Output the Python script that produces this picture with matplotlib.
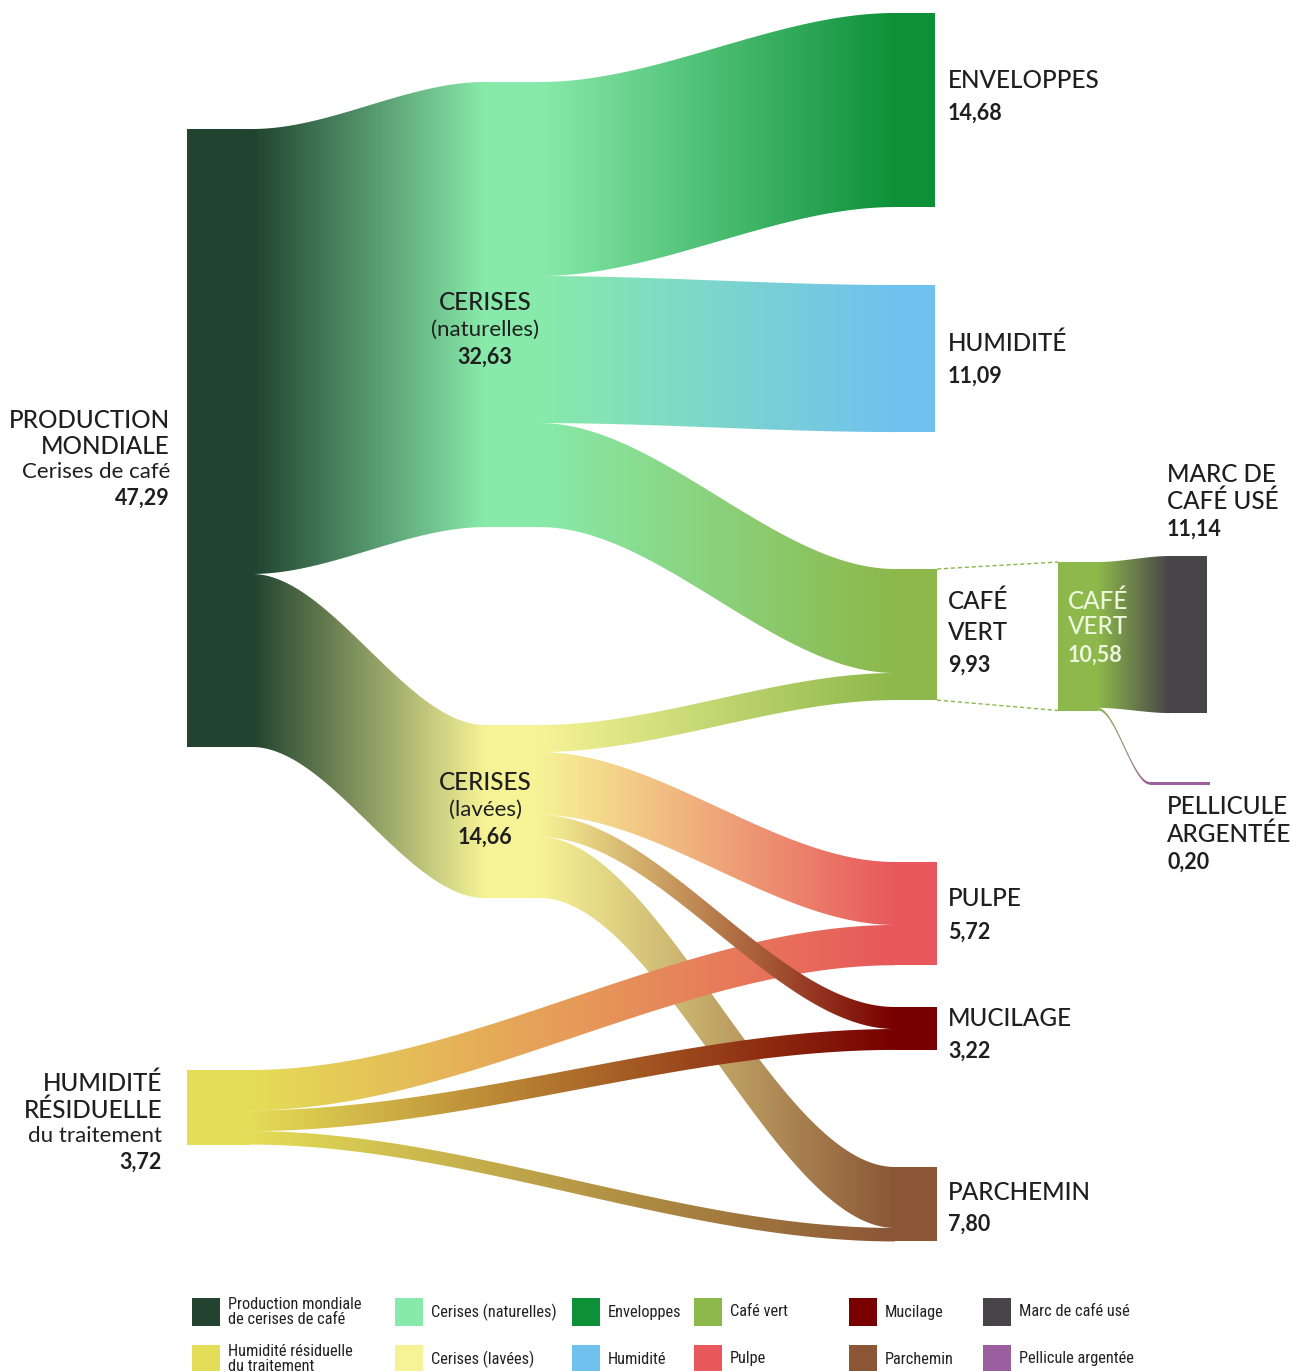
import matplotlib
matplotlib.use("Agg")
import matplotlib.pyplot as plt
import numpy as np
from matplotlib.path import Path
from matplotlib.patches import PathPatch, Rectangle
from matplotlib.colors import to_rgb
from matplotlib import font_manager

# ---------------- DATA ----------------
node_ids = ["prod", "hr", "nat", "lav", "env", "hum", "cv", "pulpe", "muc", "parch", "cv2", "marc", "pell"]
node_colors = ["#21432f", "#e4dd57", "#88eaaa", "#f6f396", "#0e9039", "#71c1ef", "#8db84b",
               "#e8585c", "#780000", "#8b5636", "#8db84b", "#48444a", "#9b5fa0"]

flow_sources = ["prod", "prod", "nat", "nat", "nat", "lav", "lav", "lav", "lav", "hr", "hr", "hr", "cv2", "cv2"]
flow_targets = ["nat", "lav", "env", "hum", "cv", "cv", "pulpe", "muc", "parch", "pulpe", "muc", "parch", "marc", "pell"]
# flow widths (units)
flow_values = [33.71, 13.11, 14.70, 11.14, 7.88, 2.05, 4.77, 1.67, 4.62, 3.05, 1.58, 1.02, 11.05, 0.20]
# drawn height of the "marc" bar (it is taller than its inflow)
marc_bar_value = 11.90

# label texts
label_values = {"prod": "47,29", "hr": "3,72", "nat": "32,63", "lav": "14,66", "env": "14,68",
                "hum": "11,09", "cv": "9,93", "pulpe": "5,72", "muc": "3,22", "parch": "7,80",
                "cv2": "10,58", "marc": "11,14", "pell": "0,20"}

legend_labels_row1 = ["Production mondiale\nde cerises de café", "Cerises (naturelles)", "Enveloppes",
                      "Café vert", "Mucilage", "Marc de café usé"]
legend_colors_row1 = ["#21432f", "#88eaaa", "#0e9039", "#8db84b", "#780000", "#48444a"]
legend_labels_row2 = ["Humidité résiduelle\ndu traitement", "Cerises (lavées)", "Humidité",
                      "Pulpe", "Parchemin", "Pellicule argentée"]
legend_colors_row2 = ["#e4dd57", "#f6f396", "#71c1ef", "#e8585c", "#8b5636", "#9b5fa0"]

# ---------------- LAYOUT ----------------
S = 13.2  # pixels per unit
node_x = {"prod": (187, 252), "hr": (187, 250), "nat": (485, 540), "lav": (485, 540),
          "env": (895, 935), "hum": (895, 935), "cv": (895, 937), "pulpe": (895, 937),
          "muc": (895, 937), "parch": (895, 937), "cv2": (1058, 1098), "marc": (1170, 1207),
          "pell": (1150, 1210)}
node_top = {"prod": 129, "hr": 1070, "nat": 82, "lav": 725, "env": 13, "hum": 285, "cv": 569,
            "pulpe": 862, "muc": 1007, "parch": 1167, "cv2": 562, "marc": 556, "pell": 782}

col = dict(zip(node_ids, node_colors))

out_sum = {n: 0.0 for n in node_ids}
in_sum = {n: 0.0 for n in node_ids}
for s, t, v in zip(flow_sources, flow_targets, flow_values):
    out_sum[s] += v
    in_sum[t] += v
node_h = {n: max(out_sum[n], in_sum[n]) * S for n in node_ids}
node_h["marc"] = marc_bar_value * S

# ---------------- FIGURE ----------------
W, H = 1298, 1371
fig = plt.figure(figsize=(W / 100, H / 100), dpi=100)
ax = fig.add_axes([0, 0, 1, 1])
ax.set_xlim(0, W)
ax.set_ylim(H, 0)
ax.axis("off")


def smooth(t):
    return t * t * (3 - 2 * t)


def draw_flow(x0, x1, y0t, y0b, y1t, y1b, c0, c1, z):
    xs = np.linspace(x0, x1, 300)
    s = smooth((xs - x0) / (x1 - x0))
    top = y0t + (y1t - y0t) * s
    bot = y0b + (y1b - y0b) * s
    verts = np.vstack([np.column_stack([xs, top]), np.column_stack([xs[::-1], bot[::-1]])])
    path = Path(np.vstack([verts, verts[:1]]), closed=True)
    patch = PathPatch(path, facecolor="none", edgecolor="none")
    ax.add_patch(patch)
    g = np.linspace(0, 1, 256)[:, None]
    a = np.array(to_rgb(c0))
    b = np.array(to_rgb(c1))
    img = ((1 - g) * a + g * b)[None, :, :]
    im = ax.imshow(img, extent=(x0, x1, max(bot.max(), top.max()) + 1, min(top.min(), bot.min()) - 1),
                   aspect="auto", interpolation="bilinear", zorder=z, origin="upper")
    im.set_clip_path(patch)


# compute slots
out_off = {n: 0.0 for n in node_ids}
in_off = {n: 0.0 for n in node_ids}
slots = []
for s, t, v in zip(flow_sources, flow_targets, flow_values):
    hs = v / out_sum[s] * node_h[s]
    ht = v / in_sum[t] * node_h[t]
    y0t = node_top[s] + out_off[s]
    y1t = node_top[t] + in_off[t]
    out_off[s] += hs
    in_off[t] += ht
    slots.append((s, t, y0t, y0t + hs, y1t, y1t + ht))

draw_order = {("prod", "nat"): 1, ("prod", "lav"): 1, ("nat", "env"): 1, ("nat", "hum"): 1,
              ("nat", "cv"): 1, ("lav", "cv"): 1.5, ("lav", "parch"): 1.1, ("hr", "parch"): 1.2,
              ("hr", "pulpe"): 1.3, ("hr", "muc"): 1.4, ("lav", "muc"): 1.45, ("lav", "pulpe"): 1.5,
              ("cv2", "marc"): 1, ("cv2", "pell"): 1}

for s, t, y0t, y0b, y1t, y1b in slots:
    x0 = node_x[s][1]
    x1 = node_x[t][0]
    draw_flow(x0, x1, y0t, y0b, y1t, y1b, col[s], col[t], draw_order[(s, t)])

for n in node_ids:
    xa, xb = node_x[n]
    ax.add_patch(Rectangle((xa, node_top[n]), xb - xa, node_h[n], facecolor=col[n],
                           edgecolor="none", zorder=3))

# dashed connectors between the two "café vert" boxes
for ya, yb in [(node_top["cv"], node_top["cv2"]),
               (node_top["cv"] + node_h["cv"], node_top["cv2"] + node_h["cv2"])]:
    ax.plot([node_x["cv"][1], node_x["cv2"][0]], [ya, yb], color="#8db84b", lw=1.0,
            ls=(0, (3, 2)), zorder=3)

# ---------------- TEXT ----------------
FONT = ["Lato", "DejaVu Sans"]
TXT = "#1f1f1f"
CAP = 17.5
NUM = 15.5
SUB = 16


def lines(x, ys, texts, styles, ha, color=TXT):
    for y, tx, st in zip(ys, texts, styles):
        if st == "cap":
            ax.text(x, y, tx, ha=ha, va="center", fontsize=CAP, fontweight="medium",
                    family=FONT, color=color, zorder=5)
        elif st == "num":
            ax.text(x, y, tx, ha=ha, va="center", fontsize=NUM, fontweight="bold",
                    family=FONT, color=color, zorder=5)
        else:
            ax.text(x, y, tx, ha=ha, va="center", fontsize=SUB, fontweight="normal",
                    family=FONT, color=color, zorder=5)


lines(170, [420, 447, 472, 498], ["PRODUCTION", "MONDIALE", "Cerises de café", label_values["prod"]],
      ["cap", "cap", "sub", "num"], "right")
lines(162, [1083, 1110, 1136, 1162], ["HUMIDITÉ", "RÉSIDUELLE", "du traitement", label_values["hr"]],
      ["cap", "cap", "sub", "num"], "right")
lines(485, [302, 330, 357], ["CERISES", "(naturelles)", label_values["nat"]], ["cap", "sub", "num"], "center")
lines(485, [782, 810, 837], ["CERISES", "(lavées)", label_values["lav"]], ["cap", "sub", "num"], "center")
lines(948, [81, 113], ["ENVELOPPES", label_values["env"]], ["cap", "num"], "left")
lines(948, [343, 376], ["HUMIDITÉ", label_values["hum"]], ["cap", "num"], "left")
lines(948, [601, 633, 665], ["CAFÉ", "VERT", label_values["cv"]], ["cap", "cap", "num"], "left")
lines(1068, [601, 627, 655], ["CAFÉ", "VERT", label_values["cv2"]], ["cap", "cap", "num"], "left",
      color="#eef7de")
lines(1167, [474, 501, 529], ["MARC DE", "CAFÉ USÉ", label_values["marc"]], ["cap", "cap", "num"], "left")
lines(1167, [807, 834, 862], ["PELLICULE", "ARGENTÉE", label_values["pell"]], ["cap", "cap", "num"], "left")
lines(948, [899, 932], ["PULPE", label_values["pulpe"]], ["cap", "num"], "left")
lines(948, [1019, 1051], ["MUCILAGE", label_values["muc"]], ["cap", "num"], "left")
lines(948, [1192, 1224], ["PARCHEMIN", label_values["parch"]], ["cap", "num"], "left")

# ---------------- LEGEND ----------------
LEGFONT = "Roboto"
for cand in ["Liberation Sans Narrow", "Roboto Condensed"]:
    try:
        font_manager.findfont(cand, fallback_to_default=False)
        LEGFONT = cand
        break
    except Exception:
        pass

sw_x = [192, 395, 572, 694, 849, 983]
for row, (labs, cols, ytop) in enumerate([(legend_labels_row1, legend_colors_row1, 1298),
                                           (legend_labels_row2, legend_colors_row2, 1345)]):
    for x, lab, c in zip(sw_x, labs, cols):
        ax.add_patch(Rectangle((x, ytop), 28, 28, facecolor=c, edgecolor="none", zorder=3))
        ax.text(x + 36, ytop + 14, lab, ha="left", va="center", fontsize=11.8, family=[LEGFONT, "DejaVu Sans"],
                color="#222222", linespacing=0.95, zorder=5)

fig.savefig("out.png", dpi=100)
